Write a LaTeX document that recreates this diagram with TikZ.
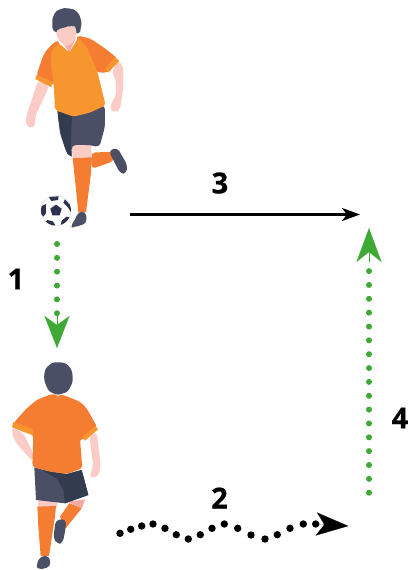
\documentclass[tikz,border=0pt]{standalone}
\usepackage{fontspec}
\setmainfont{Open Sans}[BoldFeatures={FakeBold=0.6}]
\usetikzlibrary{arrows.meta}
\definecolor{jerseyL}{HTML}{F7952F}
\definecolor{jerseyD}{HTML}{F47D32}
\definecolor{skin}{HTML}{FBCBC6}
\definecolor{skinD}{HTML}{F6A9A0}
\definecolor{hair}{HTML}{4A4F66}
\definecolor{shortsD}{HTML}{323C4E}
\definecolor{ballD}{HTML}{2E3050}
\definecolor{dotgreen}{HTML}{3FA936}
\tikzset{
  numlabel/.style={font=\fontsize{29}{29}\selectfont\bfseries,inner sep=0pt,text=black},
  greendots/.style={dotgreen,line width=6pt,line cap=round,dash pattern=on 0pt off 13.85pt},
  blackdot/.style={fill=black,draw=none,circle,minimum size=7.4pt,inner sep=0pt},
  soft/.style={rounded corners=4pt,draw=none},
}
\begin{document}
\begin{tikzpicture}[x=1pt,y=-1pt]
\useasboundingbox (0,0) rectangle (409,570);
% ---------- top player
\begin{scope}[shift={(10,0)},x=0.3333pt,y=-0.3333pt]
% arms
\fill[skin,soft] (85,240)--(118,258)--(75,350)--(77,375)--(62,387)--(45,370)--(50,345)--cycle;
\fill[skin,soft] (305,215)--(325,180)--(340,200)--(340,260)--(330,330)--(315,338)--(300,330)--(305,305)--(318,290)--(318,240)--cycle;
% back leg
\fill[jerseyD,soft] (243,458)--(312,455)--(312,483)--(245,507)--cycle;
\fill[hair,soft] (296,452)--(322,443)--(352,495)--(350,520)--(332,522)--(320,500)--(310,480)--cycle;
% thigh
\fill[skin] (185,430)--(242,430)--(246,475)--(188,478)--cycle;
% sock and shoe
\fill[jerseyD] (188,475)--(245,472)--(243,520)--(228,637)--(205,637)--(195,540)--cycle;
\fill[hair,soft] (205,635)--(228,635)--(230,670)--(190,683)--(180,680)--(195,660)--cycle;
% shorts
\fill[hair,soft] (142,333)--(285,316)--(285,380)--(268,442)--(240,435)--(185,435)--(185,470)--(170,460)--(150,400)--cycle;
\fill[shortsD] (142,333)--(186,348)--(182,440)--(186,470)--(172,462)--(152,400)--cycle;
% shirt
\fill[jerseyD,soft] (146,118)--(118,140)--(100,165)--(78,230)--(124,262)--(135,240)--(160,200)--cycle;
\fill[jerseyD,soft] (198,106)--(240,115)--(285,145)--(326,178)--(294,218)--(262,218)--(215,170)--cycle;
\fill[jerseyL,rounded corners=3pt] (148,130)--(178,158)--(205,112)--(230,140)--(262,215)--(287,316)--(240,338)--(190,350)--(135,330)--(132,265)--(122,180)--(125,150)--cycle;
\fill[jerseyL] (80,225)--(127,245)--(124,262)--(76,237)--cycle;
\fill[jerseyL] (315,170)--(327,183)--(295,218)--(285,207)--cycle;
% head
\fill[hair] plot[smooth cycle,tension=0.8] coordinates {(127,70) (133,42) (150,28) (175,25) (200,35) (213,60) (212,85) (204,100) (170,95) (135,95)};
\fill[skinD] (156,126)--(198,112)--(178,157)--cycle;
\fill[skin,rounded corners=5pt] (136,88)--(165,84)--(185,74)--(202,85)--(197,115)--(178,140)--(160,136)--(142,116)--cycle;
% ball
\node[circle,draw=black!15,line width=0.5pt,fill=white,minimum size=30pt,inner sep=0pt] (ball) at (138,632) {};
\begin{scope}
\clip (138,632) circle[radius=45];
\fill[ballD] (138,614)--(155,626)--(149,646)--(127,646)--(121,626)--cycle;
\fill[ballD] (116,591)--(146,589)--(144,600)--(124,603)--cycle;
\fill[ballD] (165,598)--(186,622)--(183,636)--(172,620)--(160,608)--cycle;
\fill[ballD] (92,620)--(108,612)--(108,640)--(100,650)--(92,640)--cycle;
\fill[ballD] (112,660)--(128,664)--(136,675)--(120,680)--(105,668)--cycle;
\fill[ballD] (178,652)--(170,672)--(152,676)--(155,662)--(170,650)--cycle;
\end{scope}
\end{scope}
% ---------- bottom player
\begin{scope}[shift={(0,350)},x=0.3333pt,y=-0.3333pt]
% arms
\fill[skin,soft] (37,232)--(70,250)--(100,310)--(100,335)--(85,320)--(45,275)--(36,250)--cycle;
\fill[skin,soft] (268,255)--(290,245)--(302,345)--(298,375)--(275,387)--(270,370)--(280,350)--cycle;
% legs
\fill[skin] (116,445)--(173,448)--(170,472)--(113,472)--cycle;
\fill[skinD] (205,455)--(256,448)--(245,475)--(215,462)--cycle;
\fill[jerseyD] (208,460)--(245,475)--(197,535)--(180,500)--cycle;
\fill[jerseyD] (112,470)--(168,468)--(165,500)--(147,618)--(122,618)--(115,530)--cycle;
\fill[hair,soft] (167,510)--(197,507)--(198,530)--(188,580)--(172,582)--(160,565)--cycle;
\fill[hair,soft] (122,618)--(148,618)--(152,650)--(115,660)--(108,645)--cycle;
% shorts
\fill[hair] (103,352)--(150,365)--(200,372)--(245,360)--(265,435)--(195,460)--(108,450)--cycle;
\fill[shortsD] (125,360)--(200,372)--(245,360)--(265,435)--(195,460)--(190,420)--(170,385)--cycle;
% shirt
\fill[jerseyD,rounded corners=3pt] (155,132)--(190,135)--(240,155)--(260,175)--(292,232)--(250,270)--(240,265)--(247,355)--(200,372)--(150,365)--(97,350)--(100,255)--(40,220)--(80,175)--(110,150)--cycle;
\fill[jerseyL] (40,216)--(100,238)--(98,256)--(36,232)--cycle;
\fill[jerseyL] (286,228)--(294,238)--(255,272)--(247,262)--cycle;
% head
\fill[skin] (153,125)--(192,125)--(175,140)--cycle;
\fill[hair] plot[smooth cycle,tension=0.8] coordinates {(133,72) (148,45) (175,37) (205,47) (218,80) (210,113) (190,130) (160,130) (140,110)};
\end{scope}
% ---------- connector end points
\coordinate (g1a) at (57,244);
\coordinate (g1b) at (57,315);
\coordinate (g1s) at (57,316);
\coordinate (g1c) at (57,348);
\coordinate (g4a) at (369,492.7);
\coordinate (g4b) at (369,258);
\coordinate (g4s) at (369,262);
\coordinate (g4c) at (369,228);
\coordinate (k3a) at (130,214.5);
\coordinate (k3b) at (360,214.5);
\coordinate (wtip) at (348.3,526);
% ---------- connectors
\draw[dotgreen,line width=0.1pt,-{Stealth[length=32pt,width=25pt,inset=9pt]}] (g1s) -- (g1c);
\draw[dotgreen,line width=0.1pt,-{Stealth[length=34pt,width=25pt,inset=10pt]}] (g4s) -- (g4c);
\draw[greendots] (g1a) -- (g1b);
\draw[greendots] (g4a) -- (g4b);
\draw[line width=2.5pt,-{Stealth[length=18pt,width=13pt,inset=5pt]}] (k3a) -- (k3b);
\foreach \i/\x/\y in {1/120/533.3,2/130.7/529.3,3/141.7/526,4/153/524,5/165/528.3,6/176.3/534.7,7/188.3/539,8/200.3/534.7,9/212/528.3,10/224.3/524,11/237.7/528.3,12/251/535,13/265/539,14/277.3/534.7,15/290/528.3,16/303.3/524,17/315.7/524}
  \node[blackdot] (w\i) at (\x,\y) {};
\draw[black,line width=0.1pt,-{Stealth[length=32pt,width=23pt,inset=8pt]}] (w17.center) -- (wtip);
% ---------- labels
\node[numlabel] (n1) at (16,279) {1};
\node[numlabel] (n2) at (219.5,498) {2};
\node[numlabel] (n3) at (220,183) {3};
\node[numlabel] (n4) at (400,418) {4};
\end{tikzpicture}
\end{document}
